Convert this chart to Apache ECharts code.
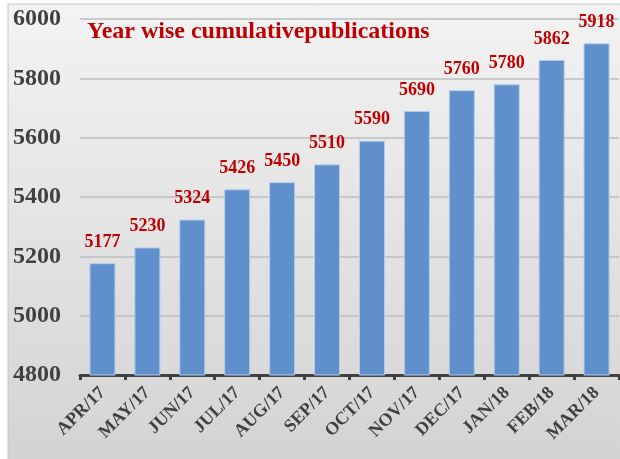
<!DOCTYPE html>
<html>
<head>
<meta charset="utf-8">
<script src="https://cdn.jsdelivr.net/npm/echarts@6/dist/echarts.min.js"></script>
<style>
  html, body { margin: 0; padding: 0; background: #fff; }
  #main { width: 620px; height: 459px; }
</style>
</head>
<body>
<div id="main"></div>
<script>
var months = ['APR/17', 'MAY/17', 'JUN/17', 'JUL/17', 'AUG/17', 'SEP/17',
  'OCT/17', 'NOV/17', 'DEC/17', 'JAN/18', 'FEB/18', 'MAR/18'];
var publications = [5177, 5230, 5324, 5426, 5450, 5510, 5590, 5690, 5760, 5780, 5862, 5918];
var yTicks = [4800, 5000, 5200, 5400, 5600, 5800, 6000];

var serif = '"Liberation Serif", "Times New Roman", serif';

var chart = echarts.init(document.getElementById('main'));
var option = {
  animation: false,
  graphic: [
    {
      type: 'rect',
      z: -10,
      shape: { x: 8, y: 4, width: 620, height: 460 },
      style: {
        fill: new echarts.graphic.LinearGradient(0, 0, 0, 1, [
          { offset: 0, color: '#f3f3f3' },
          { offset: 1, color: '#d3d3d3' }
        ]),
        stroke: '#c4c4c4',
        lineWidth: 1
      }
    }
  ],
  title: {
    text: 'Year wise cumulativepublications',
    left: 82,
    top: 15,
    textStyle: {
      fontFamily: serif,
      fontWeight: 'bold',
      fontSize: 24,
      color: '#c00000'
    }
  },
  grid: {
    left: 80,
    right: 1,
    top: 19,
    bottom: 84
  },
  xAxis: {
    type: 'category',
    data: months,
    axisLine: { lineStyle: { color: '#404040', width: 3 } },
    axisTick: { show: true, length: 5, lineStyle: { color: '#404040', width: 3 } },
    axisLabel: {
      rotate: 45,
      margin: 15,
      interval: 0,
      fontFamily: serif,
      fontWeight: 'bold',
      fontSize: 18,
      color: '#404040'
    }
  },
  yAxis: {
    type: 'value',
    min: yTicks[0],
    max: yTicks[yTicks.length - 1],
    interval: 200,
    axisLine: { show: false },
    axisTick: { show: false },
    splitLine: { lineStyle: { color: '#bdbdbd', width: 1.5 } },
    axisLabel: {
      margin: 19,
      formatter: function (v) { return String(v); },
      fontFamily: serif,
      fontWeight: 'bold',
      fontSize: 24,
      color: '#404040'
    }
  },
  series: [
    {
      type: 'bar',
      data: publications,
      barCategoryGap: '42%',
      itemStyle: {
        color: '#6090cb',
        borderColor: '#b4cdea',
        borderWidth: 1
      },
      label: {
        show: true,
        position: 'top',
        distance: 12,
        fontFamily: serif,
        fontWeight: 'bold',
        fontSize: 18,
        color: '#c00000'
      }
    }
  ]
};
chart.setOption(option);
</script>
</body>
</html>
